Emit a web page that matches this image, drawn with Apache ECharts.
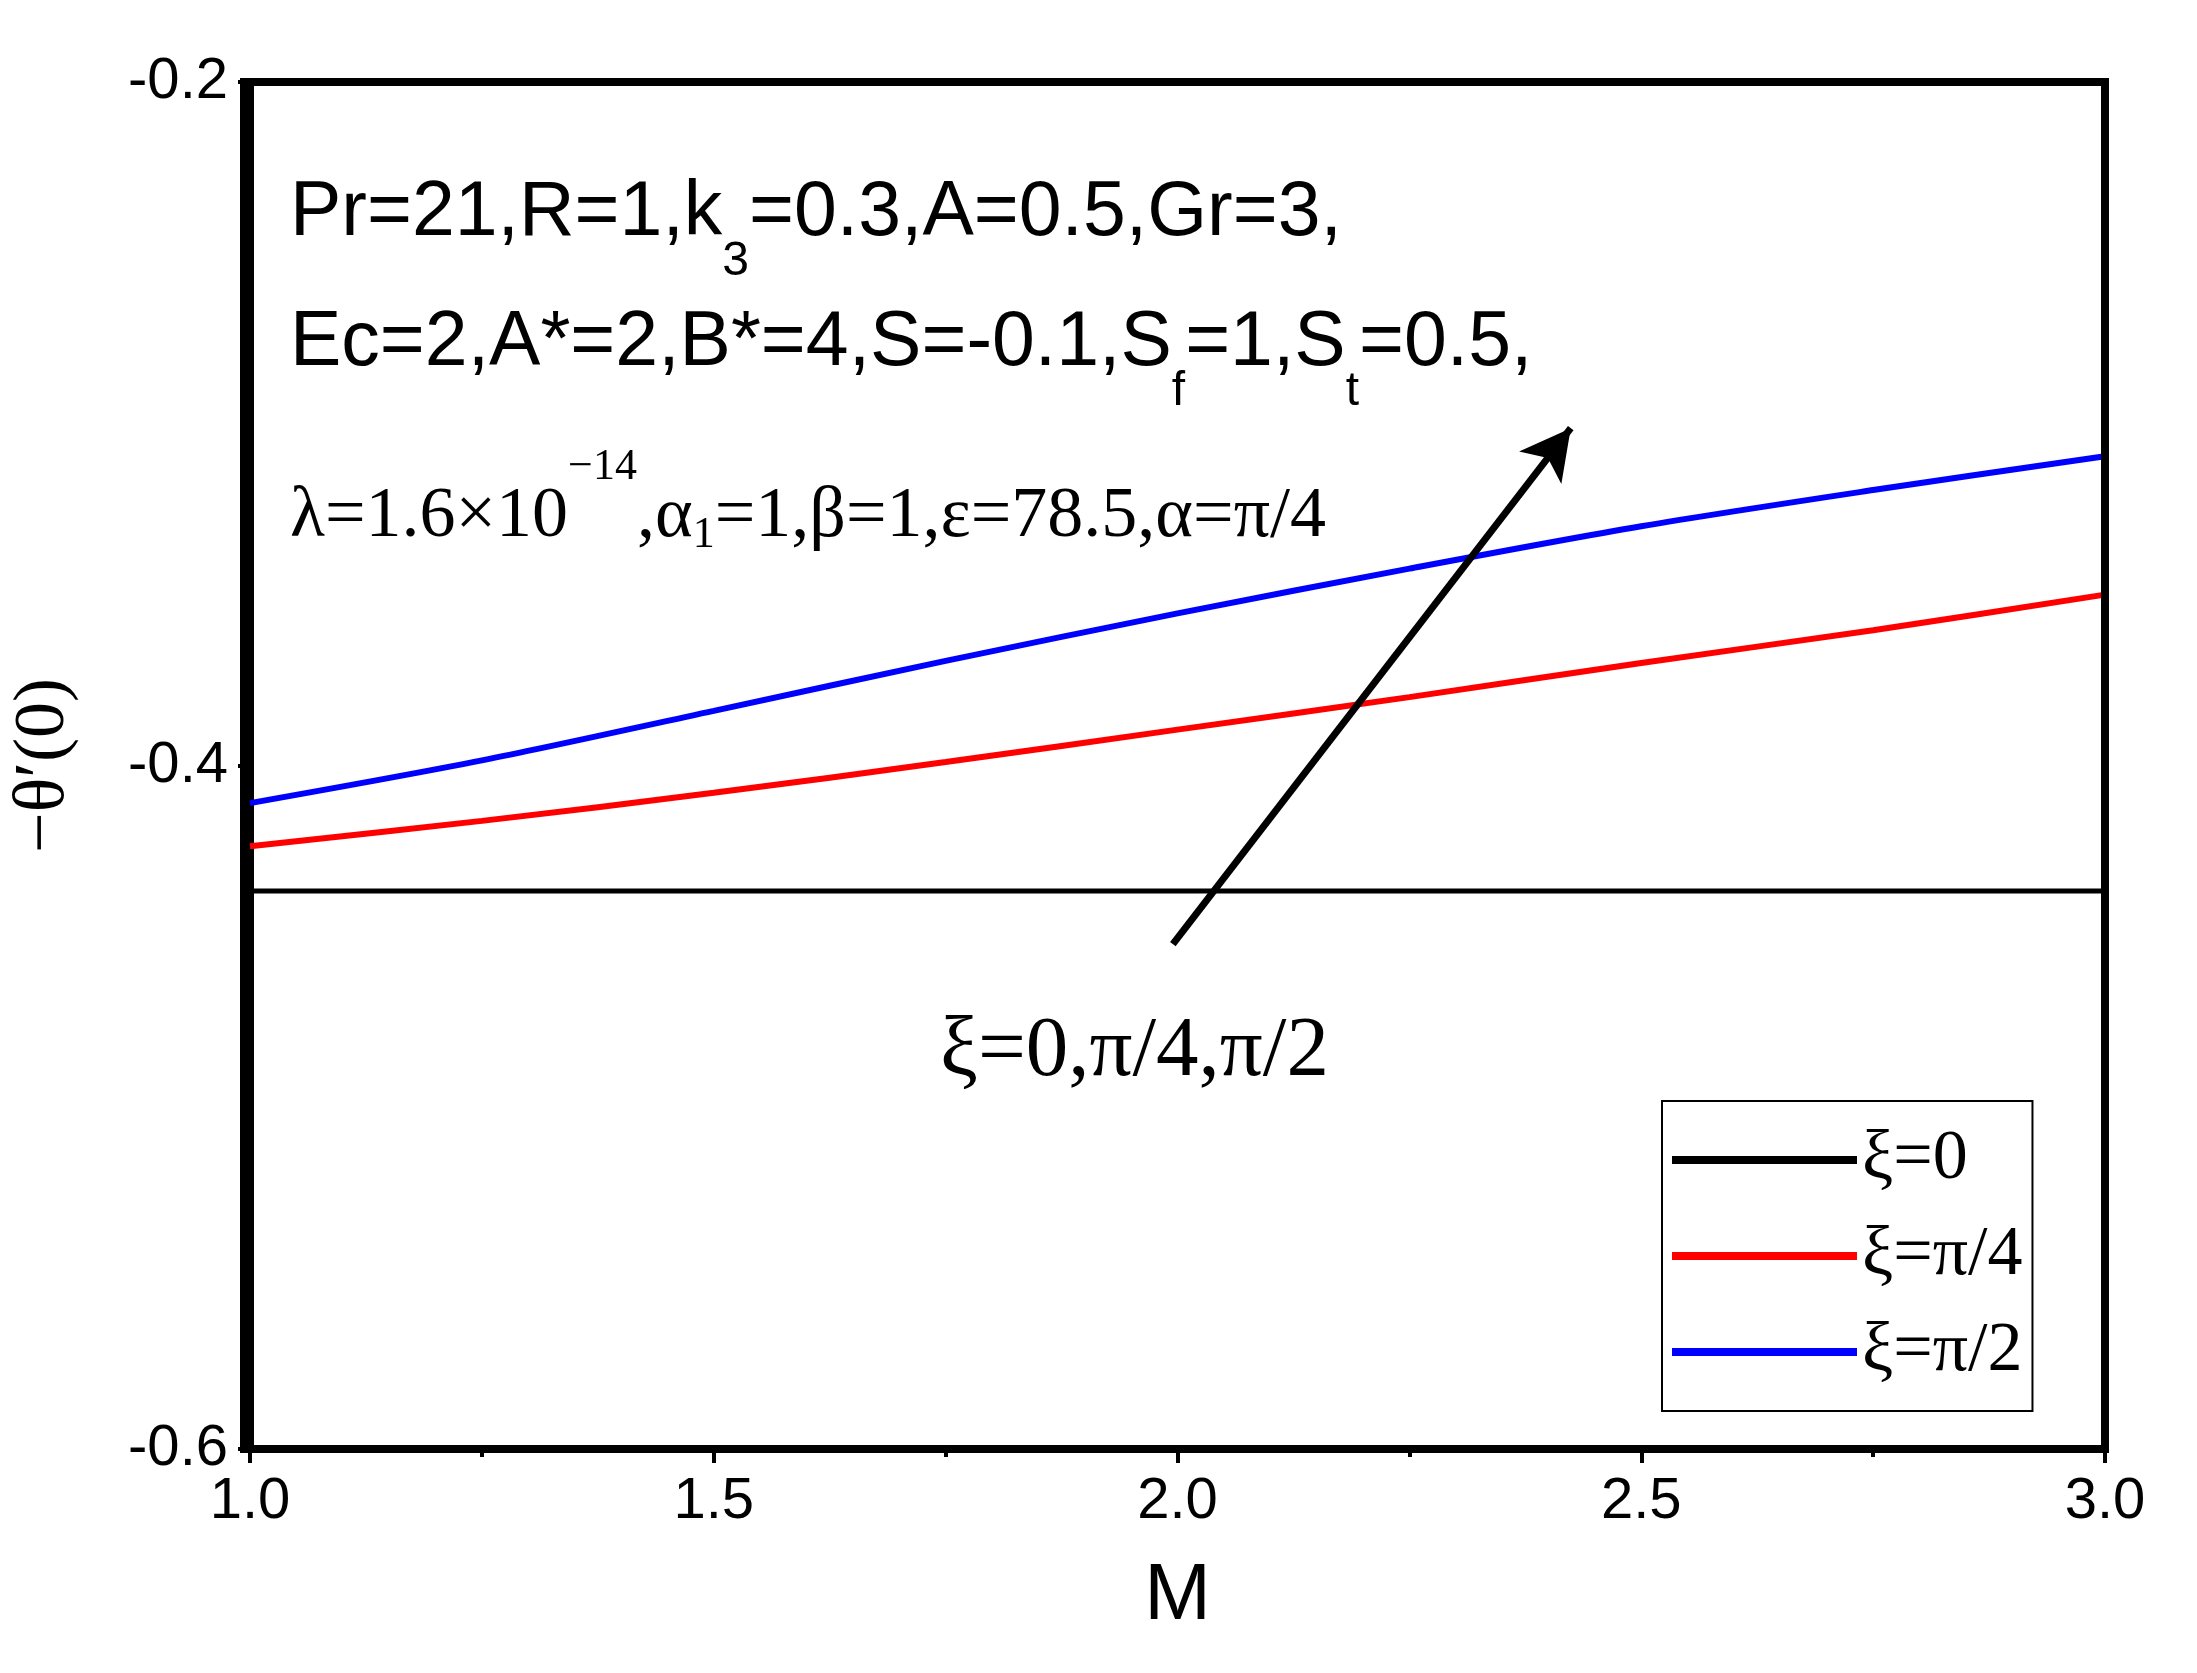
<!DOCTYPE html><html><head><meta charset="utf-8"><script src="https://cdn.jsdelivr.net/npm/echarts@6/dist/echarts.min.js"></script>
<style>html,body{margin:0;padding:0;background:#fff}#c{width:2197px;height:1673px}</style></head><body><div id="c"></div><script>
const M = [1.0,1.25,1.5,1.75,2.0,2.25,2.5,2.75,3.0];
const xi0 = [-0.4367,-0.4367,-0.4367,-0.4367,-0.4367,-0.4367,-0.4367,-0.4367,-0.4367];
const xiPi4 = [-0.4236,-0.4162,-0.408,-0.399,-0.3895,-0.380,-0.370,-0.3604,-0.350];
const xiPi2 = [-0.411,-0.3985,-0.384,-0.3694,-0.3555,-0.3424,-0.330,-0.3194,-0.3095];
const names = ['ξ=0','ξ=π/4','ξ=π/2'];
const colors = ['#000000','#ff0000','#0000ff'];
const toPts = a => M.map((m,i)=>[m,a[i]]);
const chart = echarts.init(document.getElementById('c'));
const sub = {fontFamily:'Arial',fontSize:48,verticalAlign:'bottom',lineHeight:20,padding:[0,0,-34,0]};
chart.setOption({
  animation:false,
  grid:{left:244,right:92,top:82,bottom:224},
  xAxis:{type:'value',min:1,max:3,interval:0.5,
    name:'M',nameLocation:'middle',nameGap:108,nameTextStyle:{fontFamily:'Arial',fontSize:80,color:'#000'},
    axisLine:{lineStyle:{color:'#000',width:8}},axisTick:{length:14,lineStyle:{width:4,color:'#000'}},
    minorTick:{show:true,splitNumber:2,length:8,lineStyle:{width:4,color:'#000'}},
    axisLabel:{fontFamily:'Arial',fontSize:58,color:'#000',margin:24,formatter:v=>v.toFixed(1)},splitLine:{show:false}},
  yAxis:{type:'value',min:-0.6,max:-0.2,interval:0.2,
    name:'−θ′(0)',nameLocation:'middle',nameGap:170,nameTextStyle:{fontFamily:'Liberation Serif',fontSize:72,color:'#000'},
    axisLine:{lineStyle:{color:'#000',width:8}},axisTick:{length:12,lineStyle:{width:4,color:'#000'}},
    minorTick:{show:true,splitNumber:2,length:8,lineStyle:{width:4,color:'#000'}},
    axisLabel:{fontFamily:'Arial',fontSize:58,color:'#000',margin:22,formatter:v=>v.toFixed(1)},splitLine:{show:false}},
  legend:{orient:'vertical',left:1662,top:1101,width:395,itemWidth:185,itemHeight:8,itemGap:26,
    padding:[24,10,24,10],borderColor:'#000',borderWidth:2,
    textStyle:{fontFamily:'Liberation Serif',fontSize:70,color:'#000'},
    data:names.map(n=>({name:n,icon:'rect'}))},
  series:[
    {name:names[0],type:'line',data:toPts(xi0),showSymbol:false,lineStyle:{width:5,color:colors[0]},itemStyle:{color:colors[0]},
     markLine:{silent:true,symbol:['none','arrow'],symbolSize:[40,50],lineStyle:{color:'#000',width:7,type:'solid'},label:{show:false},
       data:[[{coord:[1.995,-0.4523]},{coord:[2.424,-0.3013]}]]}},
    {name:names[1],type:'line',data:toPts(xiPi4),smooth:0.3,showSymbol:false,lineStyle:{width:6,color:colors[1]},itemStyle:{color:colors[1]}},
    {name:names[2],type:'line',data:toPts(xiPi2),smooth:0.3,showSymbol:false,lineStyle:{width:6,color:colors[2]},itemStyle:{color:colors[2]}}
  ],
  graphic:[
    {type:'rect',shape:{x:244,y:82,width:1861,height:1367},style:{fill:'none',stroke:'#000',lineWidth:8},silent:true,z:100},
    {type:'text',left:290,top:175,style:{fontFamily:'Arial',fontSize:77,fill:'#000',
      text:'Pr=21,R=1,k{s|3}=0.3,A=0.5,Gr=3,',rich:{s:sub}}},
    {type:'text',left:290,top:305,style:{fontFamily:'Arial',fontSize:77,fill:'#000',
      text:'Ec=2,A*=2,B*=4,S=-0.1,S{s|f}=1,S{s|t}=0.5,',rich:{s:sub}}},
    {type:'text',left:290,top:445,style:{fontFamily:'Liberation Serif',fontSize:72,fill:'#000',
      text:'λ=1.6×10{p|−14},α{s|1}=1,β=1,ε=78.5,α=π/4',
      rich:{p:{fontFamily:'Liberation Serif',fontSize:44,verticalAlign:'top',padding:[-36,0,0,0]},s:{fontFamily:'Liberation Serif',fontSize:44,padding:[0,0,-36,0]}}}},
    {type:'text',left:940,top:1010,style:{fontFamily:'Liberation Serif',fontSize:85,fill:'#000',text:'ξ=0,π/4,π/2'}}
  ]
});
</script></body></html>
